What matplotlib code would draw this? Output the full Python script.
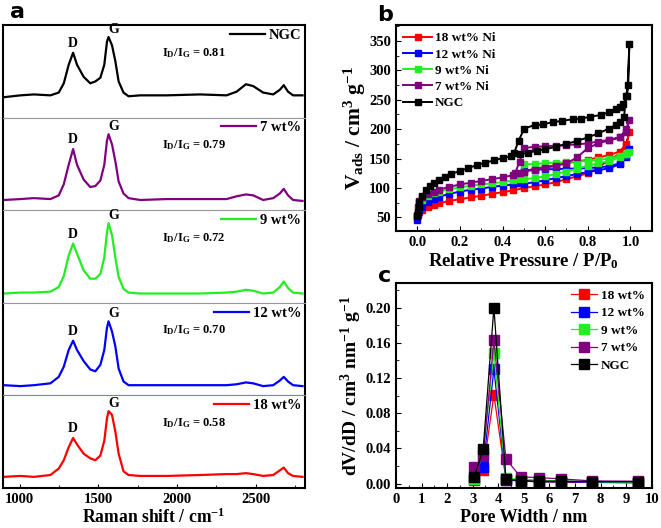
import matplotlib
matplotlib.use("Agg")
import matplotlib.pyplot as plt
from matplotlib.ticker import MultipleLocator

plt.rcParams['font.family'] = ['Liberation Serif', 'DejaVu Serif']
plt.rcParams['font.weight'] = 'bold'
plt.rcParams['axes.labelweight'] = 'bold'
plt.rcParams['mathtext.fontset'] = 'custom'
plt.rcParams['mathtext.rm'] = 'Liberation Serif:bold'
plt.rcParams['mathtext.it'] = 'Liberation Serif:bold'
plt.rcParams['mathtext.bf'] = 'Liberation Serif:bold'
plt.rcParams['mathtext.default'] = 'rm'
plt.rcParams['axes.linewidth'] = 1.5

# ---- panel a: Raman spectra (intensity in % of each strip) ----
raman_shift = [901, 1006, 1091, 1196, 1249, 1281, 1312, 1340, 1365, 1407, 1449, 1481,
               1513, 1538, 1555, 1565, 1587, 1608, 1629, 1660, 1692, 1766, 1935, 2146,
               2314, 2378, 2437, 2483, 2546, 2610, 2652, 2677, 2704, 2736, 2796]
raman_ngc = [22, 24, 25, 24, 27, 37, 57, 70, 57, 44, 37, 39, 43, 57, 82, 87, 78, 61,
             39, 27, 23, 24, 24, 25, 24, 28, 36, 34, 27, 25, 30, 35, 28, 24, 24]
raman_7 = [11, 12, 13, 12, 16, 28, 49, 66, 49, 33, 25, 26, 32, 49, 75, 82, 71, 53,
           31, 18, 13, 11, 12, 12, 12, 15, 17, 16, 11, 13, 18, 23, 16, 11, 10]
raman_9 = [10, 11, 11, 12, 17, 29, 51, 64, 53, 35, 26, 26, 31, 49, 76, 86, 73, 49,
           28, 15, 11, 10, 10, 10, 11, 12, 14, 13, 10, 11, 17, 23, 16, 11, 10]
raman_12 = [11, 10, 11, 13, 20, 31, 49, 59, 49, 37, 28, 26, 33, 49, 73, 80, 69, 53,
            29, 15, 11, 11, 11, 11, 11, 12, 14, 13, 10, 11, 16, 20, 15, 11, 10]
raman_18 = [12, 13, 12, 14, 21, 30, 44, 54, 47, 37, 32, 30, 35, 51, 75, 83, 79, 61,
            37, 18, 14, 13, 13, 14, 15, 15, 16, 15, 13, 14, 19, 22, 16, 13, 12]
raman_sets = [raman_ngc, raman_7, raman_9, raman_12, raman_18]
raman_names = ['NGC', '7 wt%', '9 wt%', '12 wt%', '18 wt%']
raman_colors = ['black', '#800080', '#22ee22', '#0000ff', '#ff0000']
ratios = ['0.81', '0.79', '0.72', '0.70', '0.58']

# ---- panel b: N2 isotherms (adsorption / desorption branches) ----
ads_x = {
    'NGC': [0.001, 0.003, 0.006, 0.01, 0.02, 0.04, 0.06, 0.08, 0.1, 0.13, 0.16, 0.2, 0.24,
            0.28, 0.32, 0.36, 0.4, 0.44, 0.48, 0.52, 0.56, 0.6, 0.65, 0.7, 0.75, 0.8, 0.85,
            0.9, 0.93, 0.95, 0.97, 0.98, 0.99, 0.995],
    '7': [0.001, 0.004, 0.01, 0.02, 0.05, 0.08, 0.1, 0.15, 0.2, 0.25, 0.3, 0.35, 0.4, 0.45,
          0.48, 0.5, 0.55, 0.6, 0.65, 0.7, 0.75, 0.8, 0.85, 0.9, 0.95, 0.98, 0.995],
    '9': [0.001, 0.004, 0.01, 0.02, 0.05, 0.08, 0.1, 0.15, 0.2, 0.25, 0.3, 0.35, 0.4, 0.45,
          0.48, 0.5, 0.55, 0.6, 0.65, 0.7, 0.75, 0.8, 0.85, 0.9, 0.95, 0.98, 0.995],
    '12': [0.001, 0.004, 0.01, 0.02, 0.05, 0.08, 0.1, 0.15, 0.2, 0.25, 0.3, 0.35, 0.4, 0.45,
           0.48, 0.5, 0.55, 0.6, 0.65, 0.7, 0.75, 0.8, 0.85, 0.9, 0.95, 0.98, 0.995],
    '18': [0.001, 0.004, 0.01, 0.02, 0.05, 0.08, 0.1, 0.15, 0.2, 0.25, 0.3, 0.35, 0.4, 0.45,
           0.5, 0.55, 0.6, 0.65, 0.7, 0.75, 0.8, 0.85, 0.9, 0.95, 0.98, 0.995],
}
ads_y = {
    'NGC': [52, 60, 68, 76, 86, 96, 103, 108, 113, 119, 124, 129, 134, 139, 143, 147, 151,
            154, 157, 160, 163, 166, 170, 175, 180, 186, 193, 201, 207, 212, 221, 257, 275, 345],
    '7': [55, 68, 78, 85, 90, 94, 97, 102, 106, 109, 112, 115, 118, 122, 126, 128, 131,
          134, 138, 142, 152, 168, 176, 181, 186, 200, 215],
    '9': [55, 66, 74, 80, 87, 91, 94, 98, 101, 104, 106, 108, 110, 113, 116, 115, 117,
          120, 124, 128, 133, 138, 142, 146, 152, 157, 162],
    '12': [45, 55, 62, 68, 76, 81, 85, 90, 94, 97, 99, 102, 104, 106, 108, 107, 110, 113,
           117, 120, 124, 127, 130, 134, 140, 152, 167],
    '18': [50, 56, 60, 63, 68, 72, 74, 78, 81, 84, 87, 90, 93, 96, 100, 103, 106, 110,
           115, 120, 125, 135, 148, 158, 172, 195],
}
des_x = {
    'NGC': [0.985, 0.965, 0.95, 0.93, 0.9, 0.86, 0.81, 0.77, 0.73, 0.68, 0.635, 0.59,
            0.55, 0.502, 0.475, 0.455],
    '7': [0.98, 0.95, 0.9, 0.85, 0.8, 0.75, 0.7, 0.65, 0.6, 0.55, 0.5, 0.48, 0.46],
    '9': [0.98, 0.95, 0.9, 0.85, 0.8, 0.75, 0.7, 0.65, 0.6, 0.55, 0.5, 0.48],
    '12': [0.98, 0.95, 0.9, 0.85, 0.8, 0.75, 0.7, 0.65, 0.6, 0.55, 0.5, 0.48],
    '18': [0.98, 0.95, 0.9, 0.85, 0.8, 0.75, 0.7, 0.65, 0.6, 0.55, 0.5, 0.47],
}
des_y = {
    'NGC': [257, 242, 238, 234, 229, 224, 221, 218, 217, 214, 212, 208, 207, 201, 180, 160],
    '7': [195, 186, 182, 179, 176, 174, 173, 172, 171, 170, 168, 145, 126],
    '9': [158, 154, 150, 148, 146, 145, 144, 143, 142, 141, 140, 118],
    '12': [155, 142, 137, 135, 134, 133, 133, 132, 132, 131, 130, 108],
    '18': [175, 162, 156, 152, 148, 145, 142, 139, 136, 133, 128, 110],
}
iso_keys = ['18', '12', '9', '7', 'NGC']
iso_labels = ['18 wt% Ni', '12 wt% Ni', '9 wt% Ni', '7 wt% Ni', 'NGC']
iso_colors = ['#ff0000', '#0000ff', '#22ee22', '#800080', 'black']

# ---- panel c: pore size distribution ----
pore_w = [3.06, 3.41, 3.83, 4.30, 4.87, 5.60, 6.47, 7.68, 9.47]
psd = {
    '18': [0.004, 0.015, 0.101, 0.0045, 0.003, 0.002, 0.0015, 0.0012, 0.001],
    '12': [0.0057, 0.0186, 0.130, 0.004, 0.003, 0.002, 0.002, 0.0015, 0.001],
    '9': [0.005, 0.035, 0.148, 0.006, 0.005, 0.004, 0.003, 0.002, 0.0015],
    '7': [0.0186, 0.031, 0.163, 0.028, 0.0076, 0.0068, 0.0053, 0.003, 0.0027],
    'NGC': [0.0076, 0.039, 0.200, 0.005, 0.0034, 0.0027, 0.0027, 0.0023, 0.002],
}
psd_labels = ['18 wt%', '12 wt%', '9 wt%', '7 wt%', 'NGC']

fig = plt.figure(figsize=(6.61, 5.28), dpi=100)

# panel a: five stacked strips
a_left, a_right, a_bot, a_top = 0.0045, 0.461, 0.0758, 0.9527
strip_h = (a_top - a_bot) / 5
sep_colors = ['#999999', '#999999', '#999999', '#8080c8']
for i, (vals, name, col, r) in enumerate(zip(raman_sets, raman_names, raman_colors, ratios)):
    ax = fig.add_axes([a_left, a_top - (i + 1) * strip_h, a_right - a_left, strip_h])
    ax.plot(raman_shift, vals, color=col, lw=1.6, label=name)
    ax.set_xlim(895, 2810)
    ax.set_ylim(0, 100)
    ax.set_yticks([])
    ax.text(1340, vals[7] + 3, 'D', ha='center', va='bottom', fontsize=10)
    ax.text(1595, vals[15] + 1, 'G', ha='center', va='bottom', fontsize=10)
    ax.text(1905, 70, 'I$_D$/I$_G$ = ' + r, ha='left', va='center', fontsize=9)
    ax.legend(loc='upper right', frameon=False, fontsize=10.5, handlelength=2.4,
              borderaxespad=0.05, borderpad=0.2, handletextpad=0.25)
    if i > 0:
        ax.spines['top'].set_color(sep_colors[i - 1])
        ax.spines['top'].set_linewidth(0.8)
    if i < 4:
        ax.spines['bottom'].set_color(sep_colors[i])
        ax.spines['bottom'].set_linewidth(0.8)
        ax.set_xticks([])
    else:
        ax.xaxis.set_major_locator(MultipleLocator(500))
        ax.xaxis.set_minor_locator(MultipleLocator(250))
        ax.tick_params(axis='x', which='both', direction='in', labelsize=10.5, length=3)
        ax.tick_params(axis='x', which='minor', length=2)
        ax.set_xlabel('Raman shift / cm$^{-1}$', fontsize=12.7, labelpad=1)
fig.text(0.027, 0.977, 'a', fontsize=16, fontweight='bold', family='DejaVu Sans',
         ha='center', va='center')

# panel b
axb = fig.add_axes([0.599, 0.5625, 0.387, 0.3902])
for k, lab, col in zip(iso_keys, iso_labels, iso_colors):
    xs = ads_x[k] + des_x[k]
    ys = ads_y[k] + des_y[k]
    axb.plot(xs, ys, color=col, lw=1.4, marker='s', ms=4, label=lab)
axb.set_xlim(-0.1, 1.1)
axb.set_ylim(27, 377)
axb.xaxis.set_major_locator(MultipleLocator(0.2))
axb.xaxis.set_minor_locator(MultipleLocator(0.1))
axb.yaxis.set_major_locator(MultipleLocator(50))
axb.yaxis.set_minor_locator(MultipleLocator(25))
axb.tick_params(which='both', direction='in', labelsize=10.5)
axb.xaxis.set_major_formatter(plt.FuncFormatter(lambda v, p: f'{v:.1f}'))
axb.set_xlabel('Relative Pressure / P/P$_0$', fontsize=13.5, labelpad=2)
axb.set_ylabel('V$_{ads}$ / cm$^3$ g$^{-1}$', fontsize=15.5, labelpad=1)
axb.legend(loc='upper left', frameon=False, fontsize=9.5, handlelength=2.2,
           borderaxespad=0.15, labelspacing=0.3, handletextpad=0.2)
fig.text(0.582, 0.972, 'b', fontsize=16, fontweight='bold', family='DejaVu Sans',
         ha='center', va='center')

# panel c
axc = fig.add_axes([0.599, 0.0758, 0.387, 0.3882])
for k, lab, col in zip(iso_keys, psd_labels, iso_colors):
    axc.plot(pore_w, psd[k], color=col, lw=0.9, marker='s', ms=6.5, label=lab)
axc.set_xlim(0, 10)
axc.set_ylim(-0.005, 0.228)
axc.xaxis.set_major_locator(MultipleLocator(1))
axc.xaxis.set_minor_locator(MultipleLocator(0.5))
axc.yaxis.set_major_locator(MultipleLocator(0.04))
axc.yaxis.set_minor_locator(MultipleLocator(0.02))
axc.yaxis.set_major_formatter(plt.FuncFormatter(lambda v, p: f'{v:.2f}'))
axc.tick_params(which='both', direction='in', labelsize=10.5)
axc.set_xlabel('Pore Width / nm', fontsize=13, labelpad=2)
axc.set_ylabel('dV/dD / cm$^3$ nm$^{-1}$ g$^{-1}$', fontsize=14, labelpad=1)
axc.legend(loc='upper right', frameon=False, fontsize=9.5, handlelength=2.0,
           borderaxespad=0.1, labelspacing=0.4, handletextpad=0.3)
fig.text(0.582, 0.478, 'c', fontsize=16, fontweight='bold', family='DejaVu Sans',
         ha='center', va='center')

fig.savefig('out.png', dpi=100)
